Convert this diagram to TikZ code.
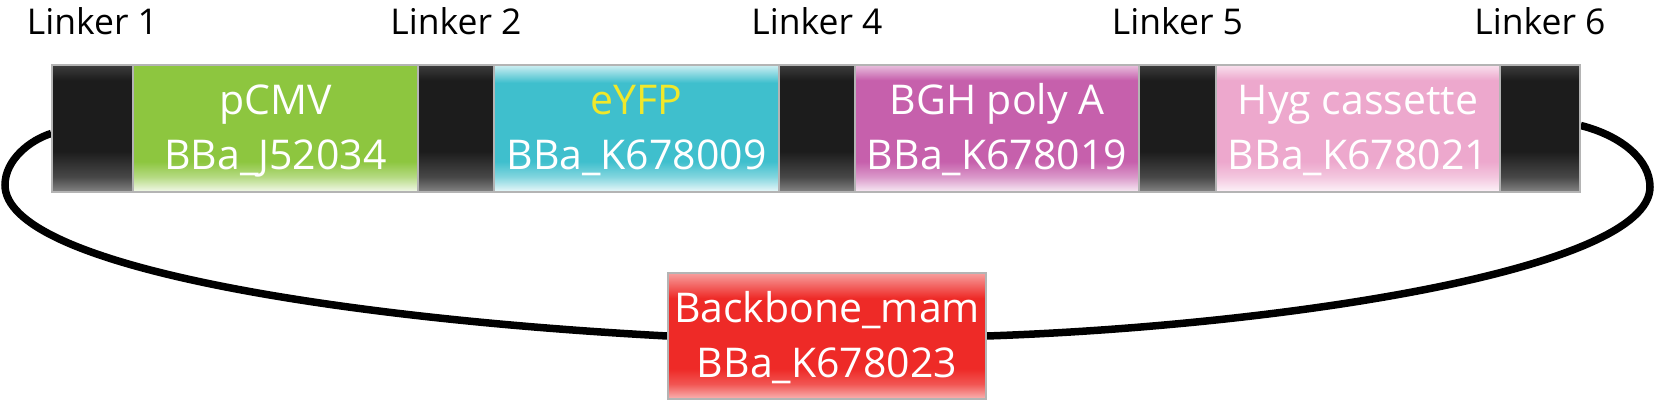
\documentclass[tikz,border=0pt]{standalone}
\usepackage{fontspec}
\setmainfont{Open Sans}
\usetikzlibrary{backgrounds}
\definecolor{pgreen}{HTML}{8DC63F}
\definecolor{pcyan}{HTML}{3FBFCD}
\definecolor{pmag}{HTML}{C660AC}
\definecolor{ppink}{HTML}{EDA8CD}
\definecolor{pred}{HTML}{EE2A27}
\definecolor{pyellow}{HTML}{F0E82A}
\definecolor{edgegray}{HTML}{B4B4B4}
\pgfdeclareverticalshading{linkershade}{100bp}{color(0bp)=(black!48); color(25bp)=(black!48); color(31bp)=(black!72); color(41bp)=(black!89); color(69bp)=(black!89); color(75bp)=(black!76); color(100bp)=(black!76)}
\pgfdeclareverticalshading{greenshade}{100bp}{color(0bp)=(pgreen!10!white); color(25bp)=(pgreen!10!white); color(31bp)=(pgreen!65!white); color(37bp)=(pgreen); color(100bp)=(pgreen)}
\pgfdeclareverticalshading{cyanshade}{100bp}{color(0bp)=(pcyan!10!white); color(25bp)=(pcyan!10!white); color(31bp)=(pcyan!65!white); color(37bp)=(pcyan); color(68bp)=(pcyan); color(75bp)=(pcyan!25!white); color(100bp)=(pcyan!25!white)}
\pgfdeclareverticalshading{magshade}{100bp}{color(0bp)=(pmag!12!white); color(25bp)=(pmag!12!white); color(31bp)=(pmag!65!white); color(37bp)=(pmag); color(69bp)=(pmag); color(75bp)=(pmag!40!white); color(100bp)=(pmag!40!white)}
\pgfdeclareverticalshading{pinkshade}{100bp}{color(0bp)=(ppink!12!white); color(25bp)=(ppink!12!white); color(31bp)=(ppink!65!white); color(37bp)=(ppink); color(69bp)=(ppink); color(75bp)=(ppink!35!white); color(100bp)=(ppink!35!white)}
\pgfdeclareverticalshading{redshade}{100bp}{color(0bp)=(pred!35!white); color(25bp)=(pred!35!white); color(31bp)=(pred!80!white); color(37bp)=(pred); color(65bp)=(pred); color(75bp)=(pred!45!white); color(100bp)=(pred!45!white)}
\begin{document}
\begin{tikzpicture}[x=1pt,y=-1pt,
  seg/.style={rectangle, draw=edgegray, line width=1.5pt, inner sep=0pt, minimum height=127pt},
  linker/.style={seg, shading=linkershade},
  parttext/.style={anchor=base, text=white, font=\fontsize{41}{48}\selectfont},
  linktext/.style={anchor=base, text=black, font=\fontsize{35.5}{40}\selectfont},
  loopline/.style={draw=black, line width=7.5pt}]
\useasboundingbox (0,0) rectangle (1655,401);
% strip
\node[linker, minimum width=81pt] (L1) at (92.5,128.5) {};
\node[seg, shading=greenshade, minimum width=285pt] (pcmv) at (275.5,128.5) {};
\node[linker, minimum width=76pt] (L2) at (456,128.5) {};
\node[seg, shading=cyanshade, minimum width=285pt] (eyfp) at (636.5,128.5) {};
\node[linker, minimum width=76pt] (L4) at (817,128.5) {};
\node[seg, shading=magshade, minimum width=284pt] (bgh) at (997,128.5) {};
\node[linker, minimum width=77pt] (L5) at (1177.5,128.5) {};
\node[seg, shading=pinkshade, minimum width=284pt] (hyg) at (1358,128.5) {};
\node[linker, minimum width=80pt] (L6) at (1540,128.5) {};
% backbone
\node[seg, shading=redshade, minimum width=318pt, minimum height=126pt] (B) at (827,336) {};
% part texts
\node[parttext] (pcmvA) at (275.5,115) {pCMV};
\node[parttext] (pcmvB) at (275.5,170) {BBa\_J52034};
\node[parttext, text=pyellow] (eyfpA) at (636.5,115) {eYFP};
\node[parttext] (eyfpB) at (636.5,170) {BBa\_K678009};
\node[parttext] (bghA) at (997,115) {BGH poly A};
\node[parttext] (bghB) at (997,170) {BBa\_K678019};
\node[parttext] (hygA) at (1358,115) {Hyg cassette};
\node[parttext] (hygB) at (1358,170) {BBa\_K678021};
\node[parttext] (BA) at (827,322) {Backbone\_mam};
\node[parttext] (BB) at (827,377) {BBa\_K678023};
% linker labels
\node[linktext] (l1t) at (92.5,35) {Linker 1};
\node[linktext] (l2t) at (456,35) {Linker 2};
\node[linktext] (l4t) at (817,35) {Linker 4};
\node[linktext] (l5t) at (1177.5,35) {Linker 5};
\node[linktext] (l6t) at (1540,35) {Linker 6};
% loop
\begin{scope}[on background layer]
\draw[loopline] ([yshift=-5pt]L1.west) .. controls (30,140) and (5,160) .. (5,185) .. controls (5,265) and (330,318) .. (B.west);
\draw[loopline] ([yshift=3pt]L6.east) .. controls (1622,136) and (1650,160) .. (1650,187) .. controls (1650,270) and (1280,326) .. (B.east);
\end{scope}
\end{tikzpicture}
\end{document}
